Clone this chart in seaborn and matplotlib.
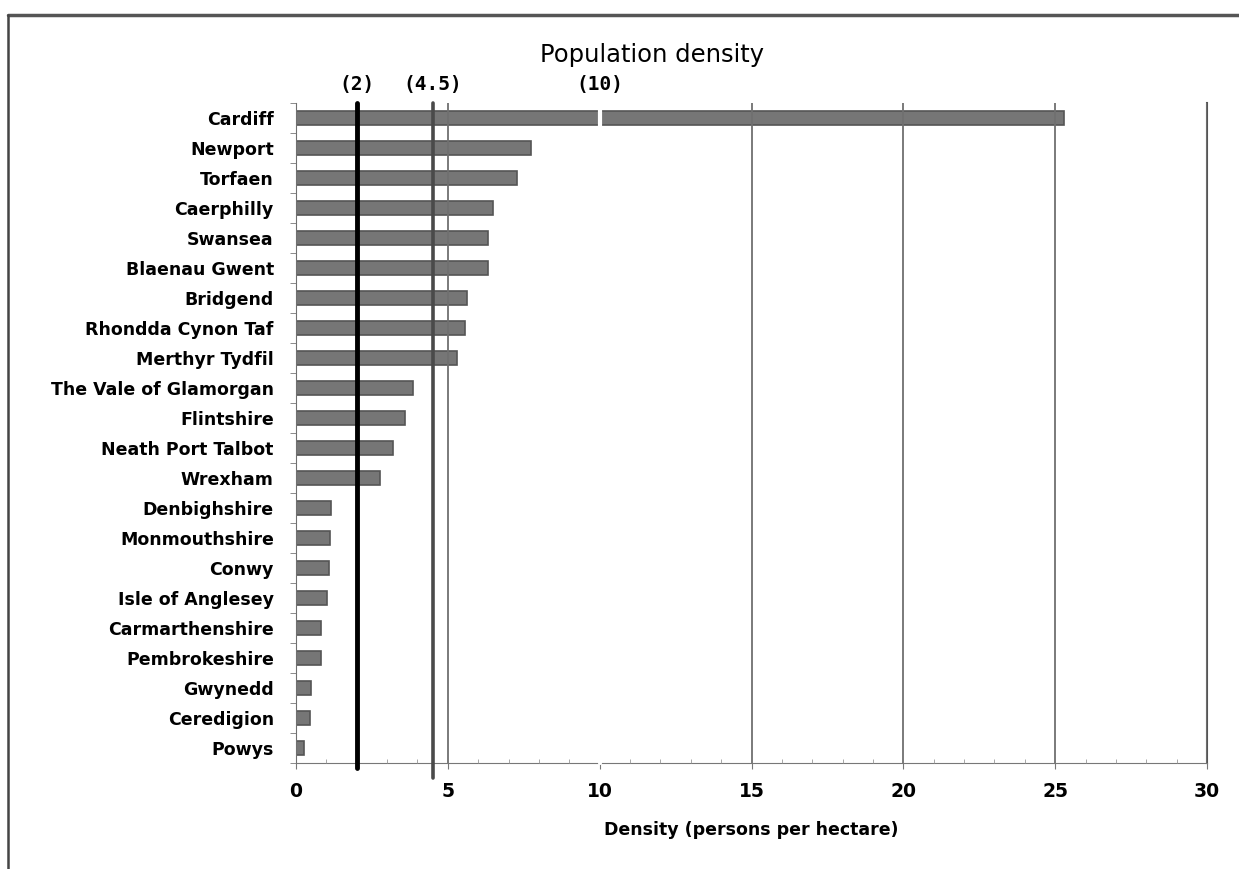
import numpy as np
import pandas as pd
import seaborn as sns
from matplotlib import pyplot as plt
from matplotlib.lines import Line2D
from matplotlib.ticker import MultipleLocator, FixedLocator
import matplotlib.transforms as mtransforms

# population density by unitary authority (persons per hectare)
areas = ['Cardiff', 'Newport', 'Torfaen', 'Caerphilly', 'Swansea',
         'Blaenau Gwent', 'Bridgend', 'Rhondda Cynon Taf', 'Merthyr Tydfil',
         'The Vale of Glamorgan', 'Flintshire', 'Neath Port Talbot', 'Wrexham',
         'Denbighshire', 'Monmouthshire', 'Conwy', 'Isle of Anglesey',
         'Carmarthenshire', 'Pembrokeshire', 'Gwynedd', 'Ceredigion', 'Powys']
density = [25.3, 7.73, 7.27, 6.48, 6.32,
           6.32, 5.62, 5.56, 5.31,
           3.85, 3.6, 3.2, 2.77,
           1.15, 1.12, 1.08, 1.02,
           0.82, 0.82, 0.49, 0.45, 0.25]

# reference levels drawn as vertical lines
ref_values = [2, 4.5, 10]
ref_labels = ['(2)', '(4.5)', '(10)']

data = pd.DataFrame({'Area': areas, 'Density': density})

sns.set_style('white')
plt.rcParams['font.family'] = ['DejaVu Sans']
plt.rcParams['text.color'] = 'black'
plt.rcParams['axes.labelcolor'] = 'black'
plt.rcParams['xtick.labelcolor'] = 'black'
plt.rcParams['ytick.labelcolor'] = 'black'

fig = plt.figure(figsize=(12.39, 8.69), dpi=100)
ax = fig.add_axes([296 / 1239, 1 - 763 / 869, 911 / 1239, 660 / 869])

sns.barplot(x='Density', y='Area', data=data, orient='h',
            color='#767676', edgecolor='#555555', linewidth=1.2,
            width=0.44, saturation=1, ax=ax)

ax.set_xlim(0, 30)
ax.set_ylim(len(areas) - 0.5, -0.5)

# gridlines drawn over the bars
ax.xaxis.set_major_locator(MultipleLocator(5))
ax.xaxis.set_minor_locator(MultipleLocator(1))
ax.set_axisbelow(False)
ax.grid(axis='x', which='major', color='#707070', linewidth=1.3)
ax.grid(axis='y', visible=False)

# reference lines
line_styles = [dict(color='black', linewidth=3.5, ymin=-0.008),
               dict(color='#4a4a4a', linewidth=2.6, ymin=-0.022),
               dict(color='white', linewidth=3, ymin=0)]
trans = mtransforms.blended_transform_factory(ax.transData, ax.transAxes)
for val, lab, st in zip(ref_values, ref_labels, line_styles):
    ax.axvline(val, ymax=1, zorder=5, clip_on=False, **st)
    ax.text(val, 1.028, lab, transform=trans, ha='center', va='center',
            fontsize=14, fontweight='bold', family='DejaVu Sans Mono')

ax.spines['top'].set_visible(False)
ax.spines['right'].set_color('#555555')
ax.spines['right'].set_linewidth(1.5)
ax.spines['left'].set_color('#777777')
ax.spines['bottom'].set_color('#777777')

# y ticks between the categories
ax.yaxis.set_minor_locator(FixedLocator(np.arange(-0.5, len(areas), 1)))
ax.tick_params(axis='y', which='major', length=0, pad=16, labelsize=12.5)
ax.tick_params(axis='y', which='minor', left=True, length=4, color='#777777')
ax.tick_params(axis='x', which='major', bottom=True, length=4, pad=10,
               labelsize=13.5, color='#777777')
ax.tick_params(axis='x', which='minor', bottom=True, length=3,
               direction='in', color='#999999')
for t in ax.get_yticklabels() + ax.get_xticklabels():
    t.set_fontweight('bold')

ax.set_ylabel('')
ax.set_xlabel('Density (persons per hectare)', fontsize=12.5,
              fontweight='bold', labelpad=14)

fig.text(652 / 1239, 1 - 55 / 869, 'Population density', ha='center',
         va='center', fontsize=17.5)

# frame around the picture
fig.add_artist(Line2D([8 / 1239, 1], [1 - 15 / 869, 1 - 15 / 869],
                      color='#555555', linewidth=2.5))
fig.add_artist(Line2D([8 / 1239, 8 / 1239], [0, 1 - 15 / 869],
                      color='#444444', linewidth=1.8))

plt.savefig('out.png', dpi=100)
